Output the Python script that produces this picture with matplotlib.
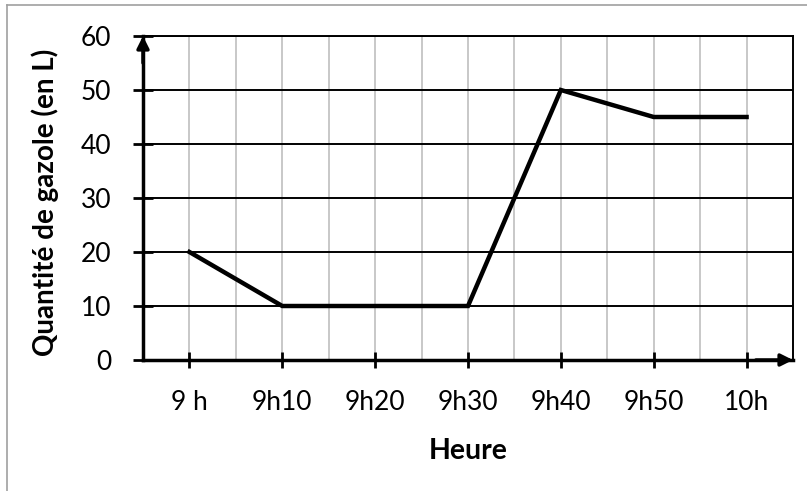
import matplotlib.pyplot as plt
from matplotlib.lines import Line2D

# * ----- Data ----------------------------------------------------------------
heures = ['9 h', '9h10', '9h20', '9h30', '9h40', '9h50', '10h']
gazole = [20, 10, 10, 10, 50, 45, 45]
y_ticks = [0, 10, 20, 30, 40, 50, 60]

plt.rcParams['font.family'] = ['Lato', 'DejaVu Sans']

W, H = 807, 491
fig = plt.figure(figsize=(W / 100, H / 100), dpi=100)
ax = fig.add_axes([143 / W, (H - 360) / H, (793 - 143) / W, (360 - 36) / H])

x = list(range(len(heures)))
ax.set_xlim(-0.5, len(heures) - 0.5)
ax.set_ylim(0, 60)

# grid: grey verticals every half step, black horizontals
for k in range(0, 2 * len(heures)):
    ax.axvline(-0.5 + k * 0.5, color='#c4c4c4', lw=1.3, zorder=1)
for v in y_ticks[1:]:
    ax.axhline(v, color='black', lw=1.4, zorder=1)

ax.plot(x, gazole, color='black', lw=3.2, solid_joinstyle='miter', zorder=3)

ax.set_xticks(x)
ax.set_xticklabels(heures)
ax.set_yticks(y_ticks)
ax.tick_params(axis='x', direction='inout', length=11, width=2, pad=16, labelsize=19)
ax.tick_params(axis='y', direction='inout', length=14, width=2, pad=16, labelsize=19)

for side in ('left', 'bottom'):
    ax.spines[side].set_linewidth(2.5)
for side in ('right', 'top'):
    ax.spines[side].set_linewidth(1.4)

# axis arrows
ax.annotate('', xy=(-0.5, 60), xytext=(-0.5, 55),
            arrowprops=dict(arrowstyle='-|>', color='black', lw=2.5,
                            mutation_scale=18, shrinkA=0, shrinkB=0),
            annotation_clip=False, zorder=4)
ax.annotate('', xy=(6.5, 0), xytext=(6.1, 0),
            arrowprops=dict(arrowstyle='-|>', color='black', lw=2.5,
                            mutation_scale=18, shrinkA=0, shrinkB=0),
            annotation_clip=False, zorder=4)

ax.set_xlabel('Heure', fontsize=20.5, fontweight='bold', labelpad=17)
fig.text(45 / W, 1 - 202 / H, 'Quantité de gazole (en L)', rotation=90,
         fontsize=20, fontweight='bold', ha='center', va='center')

# outer frame (partially cropped)
fig.add_artist(Line2D([7 / W, 7 / W], [0, 1 - 5 / H], color='#a0a0a0', lw=1.2))
fig.add_artist(Line2D([7 / W, 1], [1 - 5 / H, 1 - 5 / H], color='#a0a0a0', lw=1.2))

fig.savefig('out.png', dpi=100)
